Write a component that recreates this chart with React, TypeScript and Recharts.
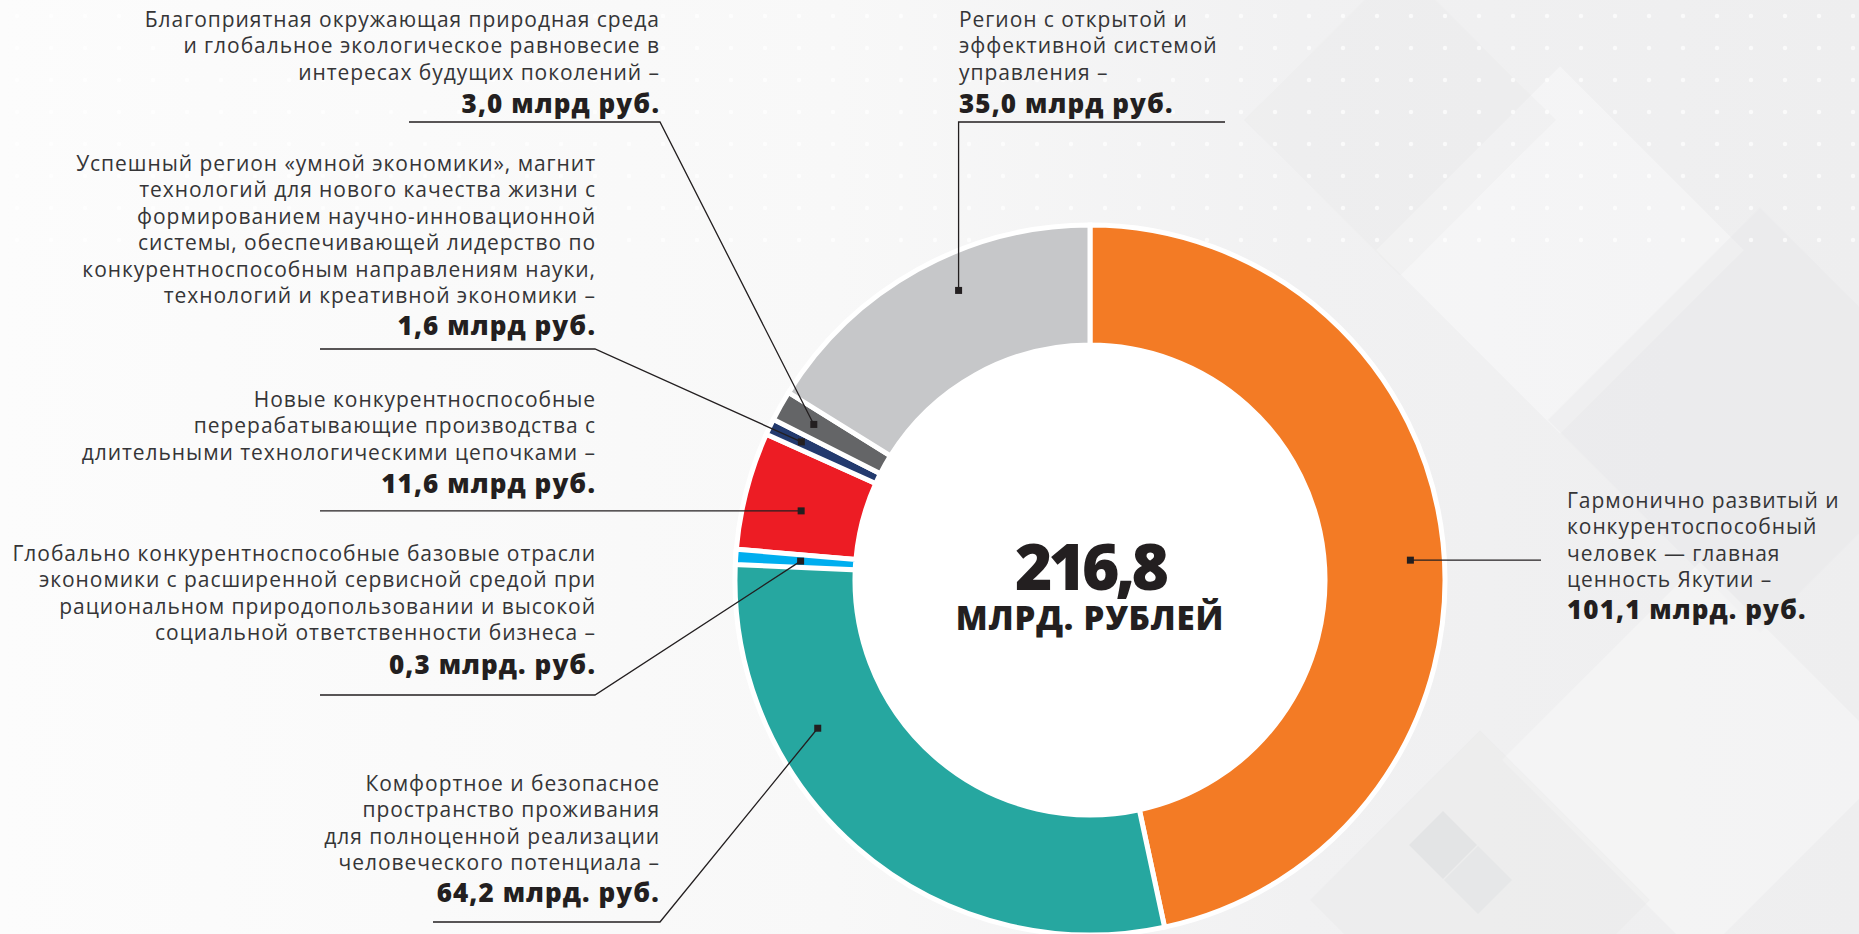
import React from 'react';
import { PieChart, Pie, Cell, Sector } from 'recharts';

// ---------- DATA ----------
const categories: string[] = [
  'Гармонично развитый и конкурентоспособный человек',
  'Комфортное и безопасное пространство проживания',
  'Глобально конкурентноспособные базовые отрасли экономики',
  'Новые конкурентноспособные перерабатывающие производства',
  'Успешный регион «умной экономики»',
  'Благоприятная окружающая природная среда',
  'Регион с открытой и эффективной системой управления',
];
const values: number[] = [101.1, 64.2, 0.3, 11.6, 1.6, 3.0, 35.0];
const colors: string[] = ['#F37B25', '#26A7A0', '#00AEEF', '#ED1C24', '#233A6E', '#646567', '#C6C7C9'];
const descriptions: string[][] = [
  ['Гармонично развитый и', 'конкурентоспособный', 'человек — главная', 'ценность Якутии –'],
  ['Комфортное и безопасное', 'пространство проживания', 'для полноценной реализации', 'человеческого потенциала –'],
  [
    'Глобально конкурентноспособные базовые отрасли',
    'экономики с расширенной сервисной средой при',
    'рациональном природопользовании и высокой',
    'социальной ответственности бизнеса –',
  ],
  ['Новые конкурентноспособные', 'перерабатывающие производства с', 'длительными технологическими цепочками –'],
  [
    'Успешный регион «умной экономики», магнит',
    'технологий для нового качества жизни с',
    'формированием научно-инновационной',
    'системы, обеспечивающей лидерство по',
    'конкурентноспособным направлениям науки,',
    'технологий и креативной экономики –',
  ],
  ['Благоприятная окружающая природная среда', 'и глобальное экологическое равновесие в', 'интересах будущих поколений –'],
  ['Регион с открытой и', 'эффективной системой', 'управления –'],
];
const valueLabels: string[] = [
  '101,1 млрд. руб.',
  '64,2 млрд. руб.',
  '0,3 млрд. руб.',
  '11,6 млрд руб.',
  '1,6 млрд руб.',
  '3,0 млрд руб.',
  '35,0 млрд руб.',
];
const totalLabel = '216,8';
const totalUnit = 'МЛРД. РУБЛЕЙ';

const data = categories.map((name, i) => ({ name, value: values[i] }));

// ---------- LAYOUT ----------
const W = 1859;
const H = 934;
const CX = 1090;
const CY = 580;
const R_IN = 235;
const R_OUT = 355;
const LINE_STEP = 26.4;
const TINY_INDEX = 2; // very small slice widened for visibility
const TINY_WIDEN = 2;

type Pt = [number, number];
type Lay = {
  f: number;
  r: number;
  tx: number;
  anchor: 'start' | 'end';
  y0: number;
  boldY: number;
  path: (d: { x: number; y: number }) => Pt[];
};

const layout: Lay[] = [
  { f: 0.515, r: 321, tx: 1567, anchor: 'start', y0: 501, boldY: 610, path: (d) => [[1541, d.y]] },
  { f: 0.69, r: 310, tx: 660, anchor: 'end', y0: 784, boldY: 893, path: () => [[660, 922], [433, 922]] },
  { f: 0.5, r: 290, tx: 596, anchor: 'end', y0: 554, boldY: 665, path: () => [[595, 695], [320, 695]] },
  { f: 0.44, r: 297, tx: 596, anchor: 'end', y0: 400, boldY: 484, path: (d) => [[320, d.y]] },
  { f: 0.5, r: 320, tx: 596, anchor: 'end', y0: 164, boldY: 326, path: () => [[595, 349], [320, 349]] },
  { f: 0.5, r: 317, tx: 660, anchor: 'end', y0: 20, boldY: 104, path: () => [[660, 122], [409, 122]] },
  { f: 0.58, r: 318, tx: 959, anchor: 'start', y0: 20, boldY: 104, path: (d) => [[d.x, 122], [1225, 122]] },
];

const FONT = "'Open Sans', 'Noto Sans', sans-serif";
const TEXT_COLOR = '#353537';
const DARK = '#231f20';

const RAD = Math.PI / 180;
const polar = (cx: number, cy: number, r: number, a: number) => ({
  x: cx + r * Math.cos(-a * RAD),
  y: cy + r * Math.sin(-a * RAD),
});

const renderLabel = (props: any) => {
  const { cx, cy, startAngle, endAngle, innerRadius, outerRadius, index, fill } = props;
  const lay = layout[index];
  if (!lay) return null;
  let s = startAngle;
  const e = endAngle;
  const parts: React.ReactNode[] = [];
  if (index === TINY_INDEX) {
    s = startAngle + TINY_WIDEN;
    parts.push(
      <Sector
        key="tiny"
        cx={cx}
        cy={cy}
        innerRadius={innerRadius}
        outerRadius={outerRadius}
        startAngle={s}
        endAngle={e}
        fill={fill}
        stroke="#fff"
        strokeWidth={5}
      />
    );
  }
  const a = s + lay.f * (e - s);
  const d = polar(cx, cy, lay.r, a);
  const pts = [[d.x, d.y] as Pt, ...lay.path(d)];
  parts.push(
    <polyline
      key="line"
      points={pts.map((p) => `${p[0]},${p[1]}`).join(' ')}
      fill="none"
      stroke={DARK}
      strokeWidth={1.3}
    />
  );
  parts.push(<rect key="dot" x={d.x - 3.5} y={d.y - 3.5} width={7} height={7} fill={DARK} />);
  const lines = descriptions[index];
  parts.push(
    <text key="desc" textAnchor={lay.anchor} fontFamily={FONT}>
      {lines.map((ln, k) => (
        <tspan key={k} x={lay.tx} y={lay.y0 + k * LINE_STEP + 7} fontSize={21} fill={TEXT_COLOR} letterSpacing={0.95}>
          {ln}
        </tspan>
      ))}
      <tspan x={lay.tx} y={lay.boldY + 9} fontWeight={800} fontSize={26} fill={DARK} letterSpacing={1.1}>
        {valueLabels[index]}
      </tspan>
    </text>
  );
  if (index === 0) {
    parts.push(
      <text key="tot" textAnchor="middle" fontFamily={FONT} fontWeight={800} fill={DARK}>
        <tspan x={cx} y={cy + 10} fontSize={64} letterSpacing={-4}>
          {totalLabel}
        </tspan>
        <tspan x={cx} y={cy + 50} fontSize={33} letterSpacing={0.8}>
          {totalUnit}
        </tspan>
      </text>
    );
  }
  return <g key={`lbl-${index}`}>{parts}</g>;
};

const Background = () => {
  const diamonds: { x: number; y: number; s: number; c: string; o: number }[] = [
    { x: 1560, y: 250, s: 260, c: '#ffffff', o: 0.35 },
    { x: 1760, y: 420, s: 300, c: '#e6e6e7', o: 0.35 },
    { x: 1400, y: 120, s: 220, c: '#e8e8e9', o: 0.3 },
    { x: 1700, y: 760, s: 280, c: '#ffffff', o: 0.3 },
    { x: 1480, y: 900, s: 240, c: '#e4e4e5', o: 0.25 },
    { x: 1443, y: 845, s: 48, c: '#e3e4e5', o: 1 },
    { x: 1478, y: 880, s: 48, c: '#e6e7e8', o: 1 },
  ];
  return (
    <svg width={W} height={H} style={{ position: 'absolute', left: 0, top: 0 }}>
      <defs>
        <linearGradient id="bg" x1="0" y1="0" x2="1" y2="0">
          <stop offset="0" stopColor="#fcfcfc" />
          <stop offset="0.45" stopColor="#f8f8f8" />
          <stop offset="0.7" stopColor="#f1f1f2" />
          <stop offset="1" stopColor="#eeeeef" />
        </linearGradient>
        <pattern id="dots" width="34" height="32" patternUnits="userSpaceOnUse">
          <circle cx="17" cy="16" r="2.2" fill="#ffffff" />
        </pattern>
      </defs>
      <rect x={0} y={0} width={W} height={H} fill="url(#bg)" />
      {diamonds.map((d, i) => (
        <rect
          key={i}
          x={d.x - d.s / 2}
          y={d.y - d.s / 2}
          width={d.s}
          height={d.s}
          fill={d.c}
          opacity={d.o}
          transform={`rotate(45 ${d.x} ${d.y})`}
        />
      ))}
      <rect x={0} y={0} width={W} height={260} fill="url(#dots)" opacity={0.7} />
      <circle cx={CX} cy={CY} r={R_IN} fill="#ffffff" />
    </svg>
  );
};

export default function App() {
  return (
    <div style={{ position: 'absolute', left: 0, top: 0, width: W, height: H, overflow: 'hidden', background: '#fafafa' }}>
      <Background />
      <div style={{ position: 'absolute', left: 0, top: 0 }}>
        <PieChart width={W} height={H} margin={{ top: 0, right: 0, bottom: 0, left: 0 }}>
          <Pie
            data={data}
            dataKey="value"
            nameKey="name"
            cx={CX}
            cy={CY}
            innerRadius={R_IN}
            outerRadius={R_OUT}
            startAngle={90}
            endAngle={-270}
            stroke="#ffffff"
            strokeWidth={5}
            isAnimationActive={false}
            label={renderLabel}
            labelLine={false}
          >
            {data.map((d, i) => (
              <Cell key={d.name} fill={colors[i]} stroke="#ffffff" strokeWidth={5} />
            ))}
          </Pie>
        </PieChart>
      </div>
    </div>
  );
}
